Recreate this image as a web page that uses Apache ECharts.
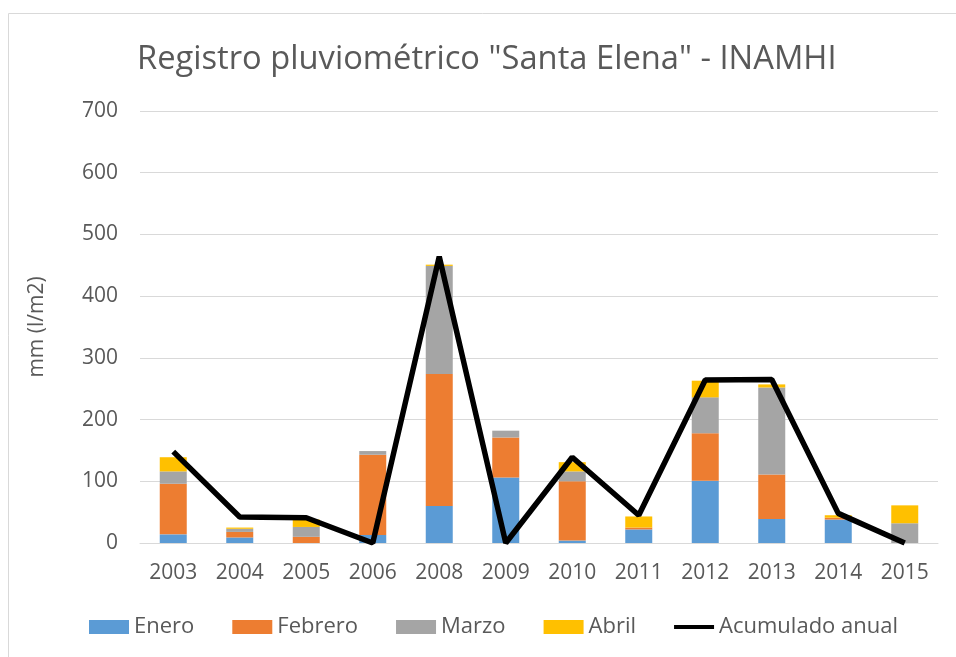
<!DOCTYPE html>
<html>
<head>
<meta charset="utf-8">
<script src="https://cdn.jsdelivr.net/npm/echarts@6/dist/echarts.min.js"></script>
<style>
  html, body { margin: 0; padding: 0; background: #fff; }
  #chart { width: 956px; height: 657px; }
</style>
</head>
<body>
<div id="chart"></div>
<script>
// datos (mm)
var years = ['2003', '2004', '2005', '2006', '2008', '2009', '2010', '2011', '2012', '2013', '2014', '2015'];
var enero = [14, 9, 0, 13, 60, 106, 4, 22, 101, 39, 38, 0];
var febrero = [82, 9, 10, 130, 214, 65, 96, 3, 77, 72, 3, 0];
var marzo = [20, 5, 16, 6, 175, 11, 16, 0, 58, 141, 0, 32];
var abril = [23, 2, 12, 0, 2, 0, 15, 18, 27, 5, 4, 29];
var acumulado = [148, 42, 41, 0, 464, 0, 139, 45, 264, 265, 48, 0];
var yTicks = [0, 100, 200, 300, 400, 500, 600, 700];

var font = '"Open Sans", sans-serif';
var txt = '#595959';

function barSerie(name, data, color) {
  return {
    name: name,
    type: 'bar',
    stack: 'meses',
    barWidth: 27,
    data: data,
    itemStyle: { color: color },
    emphasis: { disabled: true }
  };
}

var chart = echarts.init(document.getElementById('chart'));
chart.setOption({
  animation: false,
  textStyle: { fontFamily: font, color: txt },
  graphic: [{
    type: 'rect',
    shape: { x: 8.5, y: 13.5, width: 1000, height: 1000 },
    style: { fill: 'none', stroke: '#d9d9d9', lineWidth: 1 },
    silent: true
  }],
  title: {
    text: 'Registro pluviométrico "Santa Elena" - INAMHI',
    left: 132,
    top: 38,
    textStyle: { fontFamily: font, fontSize: 32.7, fontWeight: 'normal', color: txt }
  },
  grid: { left: 140, right: 18, top: 111, bottom: 114 },
  legend: {
    bottom: 14,
    left: 84,
    itemGap: 38,
    itemWidth: 40,
    itemHeight: 14,
    symbolKeepAspect: true,
    textStyle: { fontFamily: font, fontSize: 22, color: txt },
    data: [
      { name: 'Enero', icon: 'rect' },
      { name: 'Febrero', icon: 'rect' },
      { name: 'Marzo', icon: 'rect' },
      { name: 'Abril', icon: 'rect' },
      { name: 'Acumulado anual', icon: 'path://M0,0h10v1h-10z' }
    ]
  },
  xAxis: {
    type: 'category',
    data: years,
    axisLine: { lineStyle: { color: '#d9d9d9', width: 1 } },
    axisTick: { show: false },
    axisLabel: { fontFamily: font, fontSize: 21, color: txt, margin: 20 }
  },
  yAxis: {
    type: 'value',
    min: yTicks[0],
    max: yTicks[yTicks.length - 1],
    interval: 100,
    name: 'mm (l/m2)',
    nameLocation: 'middle',
    nameGap: 92,
    nameTextStyle: { fontFamily: font, fontSize: 21, color: txt },
    axisLine: { show: false },
    axisTick: { show: false },
    axisLabel: { fontFamily: font, fontSize: 21, color: txt, margin: 22 },
    splitLine: { lineStyle: { color: '#d9d9d9', width: 1 } }
  },
  series: [
    barSerie('Enero', enero, '#5b9bd5'),
    barSerie('Febrero', febrero, '#ed7d31'),
    barSerie('Marzo', marzo, '#a5a5a5'),
    barSerie('Abril', abril, '#ffc000'),
    {
      name: 'Acumulado anual',
      type: 'line',
      data: acumulado,
      symbol: 'none',
      lineStyle: { color: '#000', width: 5.5 },
      itemStyle: { color: '#000' },
      emphasis: { disabled: true }
    }
  ]
});
</script>
</body>
</html>
